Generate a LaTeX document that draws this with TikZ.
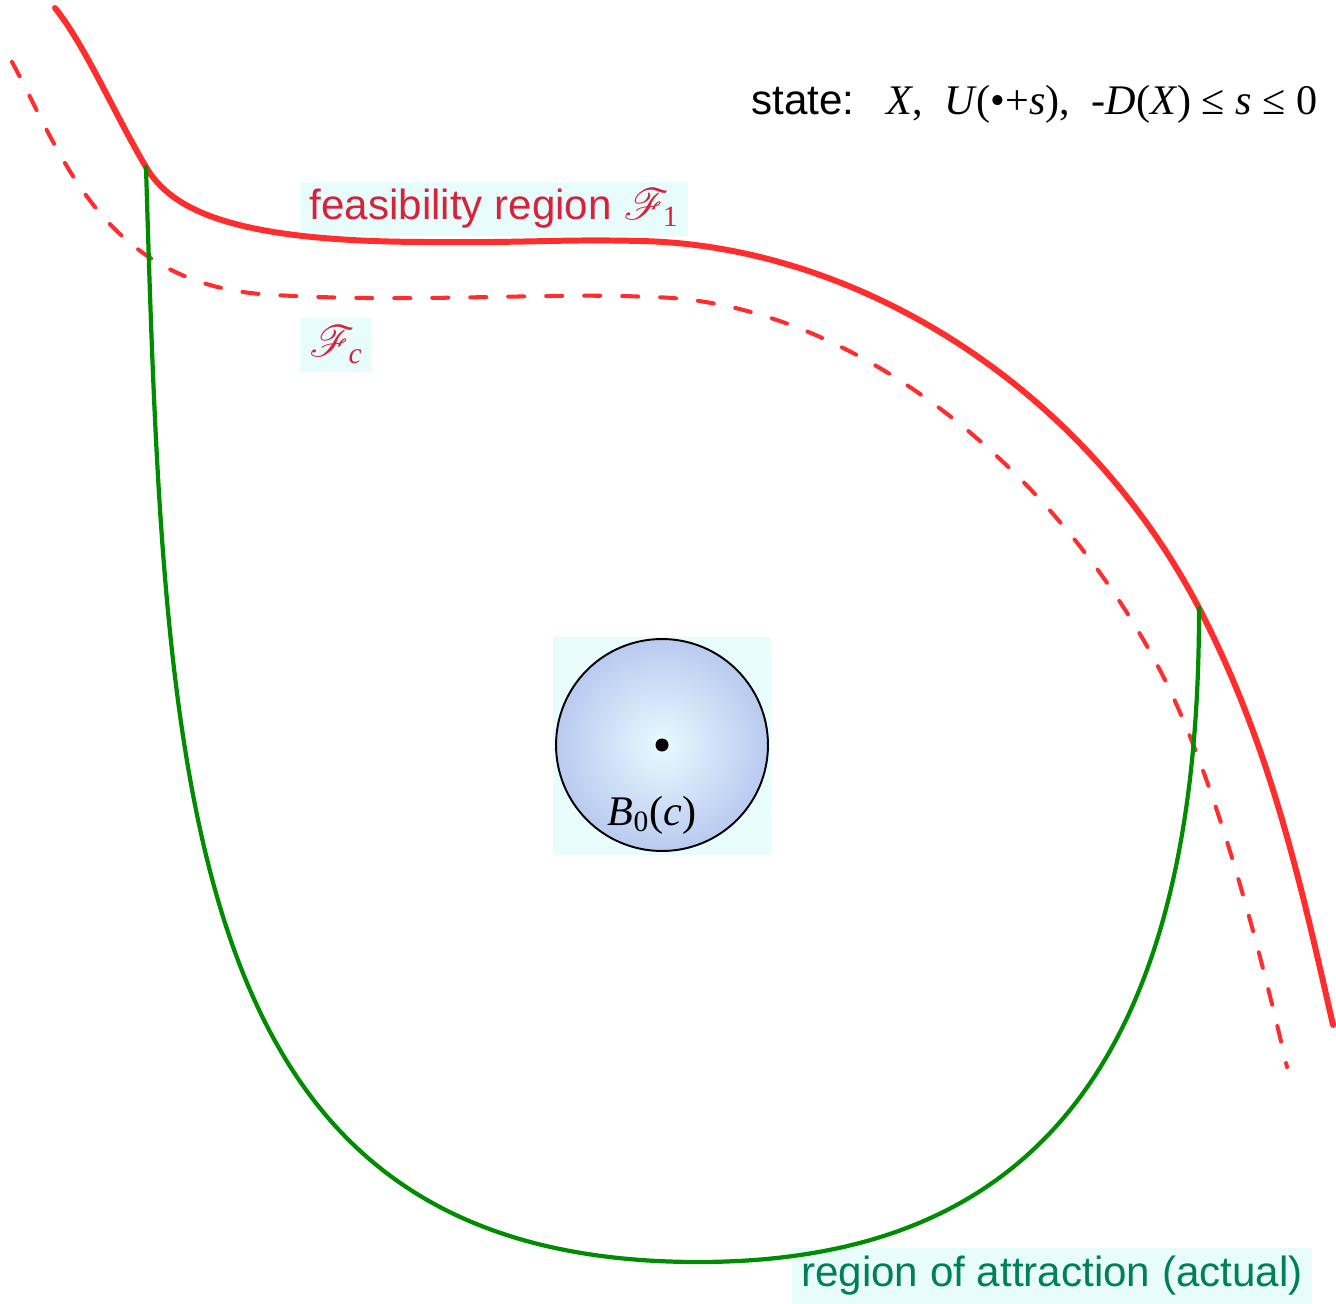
\documentclass[tikz,border=0pt]{standalone}
\usepackage{fontspec,amsmath,mathrsfs}
\setmainfont{Liberation Sans}
\newfontfamily\tnr{Liberation Serif}
\definecolor{feasred}{RGB}{255,45,45}
\definecolor{feastext}{RGB}{214,34,58}
\definecolor{roagreen}{RGB}{0,140,0}
\definecolor{roatext}{RGB}{0,128,88}
\definecolor{labelbg}{RGB}{232,252,252}
\definecolor{ballin}{RGB}{232,250,255}
\definecolor{ballout}{RGB}{186,202,240}
\usetikzlibrary{positioning}

\begin{document}
\begin{tikzpicture}[x=0.02cm,y=-0.02cm,
    every node/.style={font=\fontsize{24}{28}\selectfont},
    tag/.style={fill=labelbg,inner sep=0pt,minimum height=1.1cm},
    bound/.style={feasred,line width=3.4pt,line cap=round},
    boundc/.style={feasred,line width=2.3pt,line cap=round,
                   dash pattern=on 0.32cm off 0.44cm},
    attract/.style={roagreen,line width=2.4pt,line cap=round}]
  \useasboundingbox (0,0) rectangle (1336,1304);

  %% labels
  \node[anchor=base west] (state) at (745,115)
        {state:\hspace{0.65cm}{\tnr\textit{X}, \ \textit{U}(•+\textit{s}), \ -\textit{D}(\textit{X}) ≤ \textit{s} ≤ 0}};
  \node[tag,minimum width=7.76cm,text=feastext] (F1) at (494,209)
        {feasibility region $\mathscr{F}_{\text{\tnr 1}}$};
  \node[tag,minimum width=1.44cm,text=feastext] (Fc) at (336,345)
        {$\mathscr{F}_{\text{\tnr\itshape c}}$};
  \node[tag,minimum width=10.4cm,minimum height=1.12cm,text=roatext] (roa) at (1052,1276)
        {region of attraction (actual)};

  %% contact points of the attraction boundary
  \coordinate (touchL) at (146,167);
  \coordinate (touchR) at (1199,608);

  %% feasibility boundaries
  \draw[bound] (55,8) .. controls (85,45) and (115,115) .. (touchL)
        .. controls (171,209) and (230,242) .. (430,242)
        .. controls (530,243) and (560,239) .. (640,241)
        .. controls (850,245) and (1080,380) .. (touchR)
        .. controls (1270,745) and (1300,880) .. (1333,1025);
  \draw[boundc] (12,62) .. controls (60,150) and (100,280) .. (260,294)
        .. controls (400,304) and (550,292) .. (650,297)
        .. controls (850,300) and (1060,470) .. (1165,680)
        .. controls (1217,785) and (1260,950) .. (1287,1067);

  %% region of attraction
  \draw[attract] (touchL) .. controls (165,800) and (180,1262) .. (698,1262)
        .. controls (1000,1262) and (1200,1100) .. (touchR);

  %% ball around the equilibrium
  \node[fill=labelbg,minimum size=4.36cm,inner sep=0pt] (ballbox) at (662,746) {};
  \node[circle,draw,line width=1.1pt,minimum size=4.24cm,inner sep=0pt,
        shading=radial,inner color=ballin,outer color=ballout] (ball) at (662,745) {};
  \node[circle,fill,inner sep=0pt,minimum size=0.26cm] (eq) at (ball.center) {};
  \node (B0) at (652,815) {\tnr\textit{B}$_{\text{\tnr 0}}$(\textit{c})};
\end{tikzpicture}
\end{document}
